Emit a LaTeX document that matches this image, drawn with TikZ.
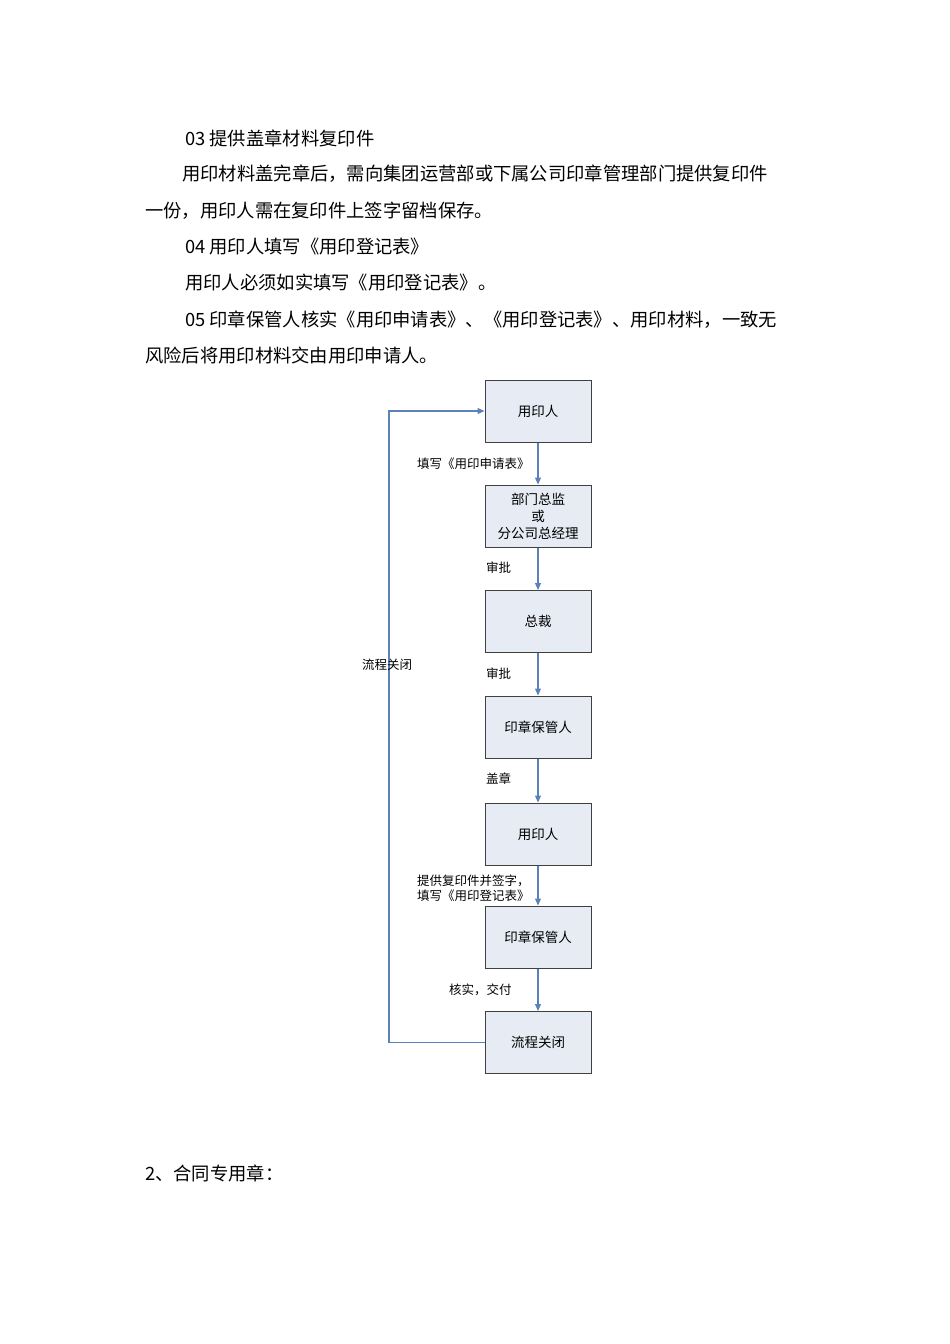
\documentclass[tikz,border=0pt]{standalone}
\usepackage{fontspec}
\setmainfont{Noto Sans CJK SC}
\usetikzlibrary{arrows.meta}
\definecolor{boxfill}{HTML}{E6EBF4}
\definecolor{arr}{HTML}{5A82B8}
\begin{document}
\begin{tikzpicture}[x=1pt,y=-1pt,
  bx/.style={draw=black!75,line width=1pt,fill=boxfill,minimum width=106pt,minimum height=62pt,align=center,font=\fontsize{13.5}{17}\selectfont,inner sep=1pt},
  ln/.style={draw=arr,line width=1.2pt,-{Triangle[length=7pt,width=6pt]}},
  lab/.style={font=\fontsize{12.5}{15}\selectfont,align=left},
  body/.style={anchor=west,font=\fontsize{18.3}{22}\selectfont,inner sep=0}]
\useasboundingbox (0,0) rectangle (950,1344);
\node[body] (t1) at (185,138) {03 提供盖章材料复印件};
\node[body] (t2) at (182,174) {用印材料盖完章后，需向集团运营部或下属公司印章管理部门提供复印件};
\node[body] (t3) at (145,211) {一份，用印人需在复印件上签字留档保存。};
\node[body] (t4) at (185,247) {04 用印人填写《用印登记表》};
\node[body] (t5) at (185,283) {用印人必须如实填写《用印登记表》。};
\node[body] (t6) at (185,320) {05 印章保管人核实《用印申请表》、《用印登记表》、用印材料，一致无};
\node[body] (t7) at (145,356) {风险后将用印材料交由用印申请人。};
\node[body] (t8) at (145,1173) {2、合同专用章：};
\node[bx] (b1) at (538,411) {用印人};
\node[bx] (b2) at (538,516) {部门总监\\或\\分公司总经理};
\node[bx] (b3) at (538,621.5) {总裁};
\node[bx] (b4) at (538,727) {印章保管人};
\node[bx] (b5) at (538,834) {用印人};
\node[bx] (b6) at (538,937) {印章保管人};
\node[bx] (b7) at (538,1042.5) {流程关闭};
\draw[ln] (b1) -- (b2);
\draw[ln] (b2) -- (b3);
\draw[ln] (b3) -- (b4);
\draw[ln] (b4) -- (b5);
\draw[ln] (b5) -- (b6);
\draw[ln] (b6) -- (b7);
\coordinate (c1) at (389,1042.5);
\coordinate (c2) at (389,411);
\draw[ln] (b7.west) -- (c1) -- (c2) -- (b1.west);
\node[lab,anchor=west,inner sep=0] (l1) at (417,464) {填写《用印申请表》};
\node[lab,anchor=west,inner sep=0] (l2) at (486,568) {审批};
\node[lab,anchor=west,inner sep=0] (l3) at (486,674) {审批};
\node[lab,anchor=west,inner sep=0] (l4) at (486,779) {盖章};
\node[lab,anchor=west,inner sep=0] (l5) at (417,888) {提供复印件并签字，\\填写《用印登记表》};
\node[lab,anchor=west,inner sep=0] (l6) at (449,990) {核实，交付};
\node[lab,anchor=west,inner sep=0] (l7) at (362,665) {流程关闭};
\end{tikzpicture}
\end{document}
